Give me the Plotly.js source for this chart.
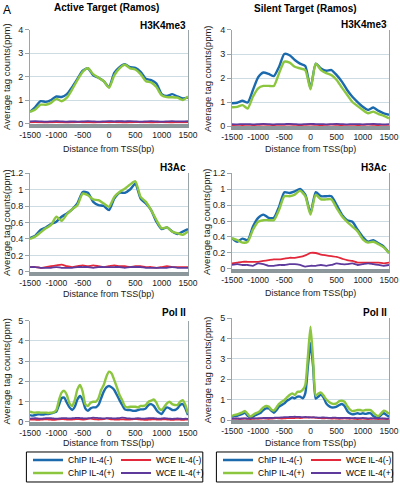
<!DOCTYPE html>
<html>
<head>
<meta charset="utf-8">
<script src="https://cdn.plot.ly/plotly-3.0.1.min.js"></script>
<style>html,body{margin:0;padding:0;background:#fff;}#chart{width:400px;height:483px;}</style>
</head>
<body>
<div id="chart"></div>
<script>
// ---- distance bins (bp) ----
const xBins100 = [-1500,-1400,-1300,-1200,-1100,-1000,-900,-800,-700,-600,-500,-400,-300,-200,-100,0,100,200,300,400,500,600,700,800,900,1000,1100,1200,1300,1400,1500];
const xBins50 = [-1500,-1450,-1400,-1350,-1300,-1250,-1200,-1150,-1100,-1050,
  -1000,-950,-900,-850,-800,-750,-700,-650,-600,-550,
  -500,-450,-400,-350,-300,-250,-200,-150,-100,-50,
  0,50,100,150,200,250,300,350,400,450,
  500,550,600,650,700,750,800,850,900,950,
  1000,1050,1100,1150,1200,1250,1300,1350,1400,1450,1500];

// ---- Active target, H3K4me3 ----
const actK4ChipMinus = [0.5,0.7,0.95,0.92,1.0,1.15,1.13,1.25,1.55,1.9, 2.25,2.35,2.05,1.95,1.8,1.55,2.15,2.4,2.52,2.4, 2.37,2.2,1.9,1.85,1.7,1.25,1.17,1.25,1.15,1.07, 1.1];
const actK4ChipPlus  = [0.5,0.6,0.8,0.8,0.88,1.05,0.95,1.1,1.45,1.85, 2.2,2.35,2.1,1.95,1.8,1.52,2.05,2.35,2.5,2.35, 2.3,2.1,1.8,1.75,1.55,1.2,1.12,1.12,1.1,1.0, 1.15];
const actK4WceMinus  = [0.05,0.06,0.05,0.04,0.05,0.06,0.05,0.04,0.05,0.06, 0.05,0.05,0.04,0.05,0.06,0.05,0.06,0.05,0.04,0.05, 0.06,0.05,0.05,0.04,0.05,0.06,0.05,0.04,0.05,0.05, 0.05];
const actK4WcePlus   = [0.09,0.1,0.09,0.08,0.09,0.1,0.09,0.08,0.09,0.08, 0.09,0.1,0.09,0.08,0.09,0.1,0.09,0.1,0.09,0.1, 0.09,0.08,0.09,0.1,0.09,0.08,0.09,0.1,0.09,0.09, 0.1];

// ---- Silent target, H3K4me3 ----
const silK4ChipMinus = [0.95,0.97,1.05,0.98,1.5,2.03,2.23,2.17,2.08,2.47, 3.0,2.95,2.75,2.6,2.5,1.57,2.6,2.4,2.3,2.33, 2.12,1.85,1.5,1.22,1.0,0.8,0.67,0.77,0.63,0.53, 0.47];
const silK4ChipPlus  = [0.78,0.8,0.87,0.73,1.22,1.57,1.67,1.67,1.67,2.2, 2.68,2.64,2.47,2.4,2.33,1.53,2.6,2.33,2.2,2.12, 1.92,1.6,1.3,1.0,0.83,0.67,0.53,0.6,0.5,0.42, 0.32];
const silK4WceMinus  = [0.04,0.05,0.04,0.05,0.04,0.05,0.06,0.05,0.04,0.05, 0.05,0.06,0.05,0.04,0.05,0.06,0.05,0.04,0.05,0.06, 0.05,0.04,0.05,0.05,0.04,0.05,0.06,0.05,0.04,0.05, 0.05];
const silK4WcePlus   = [0.08,0.07,0.08,0.08,0.07,0.08,0.09,0.08,0.07,0.08, 0.08,0.09,0.08,0.07,0.08,0.09,0.08,0.08,0.07,0.08, 0.09,0.08,0.07,0.08,0.08,0.07,0.08,0.09,0.08,0.07, 0.08];

// ---- Active target, H3Ac ----
const actAcChipMinus = [0.41,0.44,0.51,0.54,0.58,0.61,0.67,0.71,0.76,0.83, 0.97,0.96,0.85,0.81,0.8,0.75,0.89,0.96,0.96,1.0, 1.07,0.89,0.83,0.75,0.61,0.52,0.54,0.49,0.46,0.49, 0.52];
const actAcChipPlus  = [0.4,0.43,0.48,0.53,0.57,0.67,0.62,0.7,0.76,0.81, 0.95,0.93,0.88,0.87,0.83,0.79,0.91,0.97,1.01,1.06, 1.1,0.91,0.85,0.75,0.63,0.53,0.54,0.49,0.47,0.45, 0.49];
const actAcWceMinus  = [0.06,0.06,0.05,0.06,0.07,0.08,0.09,0.07,0.06,0.07, 0.08,0.07,0.08,0.07,0.06,0.07,0.08,0.07,0.07,0.06, 0.07,0.07,0.06,0.06,0.05,0.06,0.07,0.06,0.06,0.06, 0.06];
const actAcWcePlus   = [0.06,0.06,0.05,0.05,0.05,0.06,0.05,0.05,0.05,0.06, 0.06,0.06,0.05,0.06,0.06,0.06,0.06,0.06,0.05,0.06, 0.06,0.06,0.05,0.05,0.05,0.05,0.05,0.06,0.05,0.05, 0.05];

// ---- Silent target, H3Ac ----
const silAcChipMinus = [0.385,0.34,0.38,0.36,0.53,0.64,0.68,0.64,0.64,0.78, 0.96,0.95,0.97,1.0,0.93,0.7,0.96,0.91,0.91,0.91, 0.8,0.68,0.61,0.59,0.49,0.4,0.34,0.36,0.32,0.28, 0.2];
const silAcChipPlus  = [0.385,0.36,0.33,0.34,0.49,0.59,0.61,0.61,0.61,0.74, 0.91,0.91,0.93,0.98,0.91,0.68,0.93,0.87,0.87,0.87, 0.76,0.66,0.59,0.53,0.47,0.37,0.33,0.34,0.31,0.27, 0.2];
const silAcWceMinus  = [0.07,0.08,0.09,0.09,0.09,0.09,0.1,0.11,0.12,0.12, 0.13,0.14,0.14,0.15,0.17,0.2,0.2,0.18,0.17,0.16, 0.15,0.13,0.11,0.1,0.08,0.08,0.08,0.08,0.08,0.07, 0.08];
const silAcWcePlus   = [0.05,0.06,0.05,0.05,0.04,0.07,0.06,0.04,0.04,0.05, 0.05,0.06,0.06,0.05,0.03,0.04,0.04,0.05,0.04,0.05, 0.07,0.06,0.06,0.07,0.05,0.06,0.07,0.06,0.05,0.04, 0.05];

// ---- Active target, Pol II ----
const actPolChipMinus = [0.33,0.3,0.33,0.36,0.36,0.36,0.38,0.38,0.41,0.45,
  0.5,0.83,1.16,1.19,0.94,0.71,0.58,0.74,1.1,1.27,
  1.07,0.66,0.54,0.66,0.71,0.71,0.83,1.16,1.49,1.7,
  1.77,1.7,1.57,1.32,1.07,0.83,0.61,0.58,0.58,0.54,
  0.54,0.58,0.61,0.61,0.66,0.83,0.87,0.78,0.58,0.45,
  0.38,0.58,0.71,0.66,0.58,0.58,0.66,0.83,0.87,0.66, 0.33];
const actPolChipPlus = [0.5,0.46,0.45,0.46,0.45,0.45,0.45,0.43,0.45,0.46,
  0.58,1.07,1.44,1.53,1.32,0.91,0.78,1.07,1.6,1.82,
  1.49,0.87,0.78,0.94,0.99,0.99,1.16,1.57,1.82,2.23,
  2.48,2.39,2.06,1.7,1.32,1.07,0.78,0.71,0.74,0.74,
  0.74,0.71,0.78,0.78,0.83,0.99,1.04,1.1,0.94,0.66,
  0.58,0.74,0.91,0.99,0.87,0.83,0.83,0.99,1.07,0.83, 0.41];
const actPolWceMinus = [0.1,0.11,0.1,0.09,0.1,0.11,0.12,0.11,0.1,0.09,
  0.1,0.12,0.13,0.12,0.11,0.1,0.11,0.12,0.13,0.12,
  0.11,0.12,0.14,0.15,0.13,0.12,0.11,0.12,0.13,0.16,
  0.14,0.12,0.11,0.1,0.11,0.12,0.11,0.1,0.11,0.12,
  0.13,0.12,0.11,0.1,0.09,0.1,0.11,0.12,0.11,0.1,
  0.11,0.12,0.11,0.1,0.09,0.1,0.11,0.1,0.09,0.1, 0.1];
const actPolWcePlus = [0.15,0.16,0.17,0.16,0.15,0.16,0.17,0.18,0.17,0.16,
  0.15,0.16,0.17,0.18,0.17,0.16,0.17,0.18,0.19,0.18,
  0.17,0.16,0.17,0.18,0.2,0.19,0.18,0.17,0.16,0.17,
  0.18,0.17,0.16,0.17,0.18,0.2,0.19,0.17,0.16,0.15,
  0.16,0.17,0.16,0.15,0.16,0.17,0.18,0.17,0.16,0.15,
  0.16,0.17,0.16,0.15,0.14,0.15,0.16,0.15,0.14,0.15, 0.14];

// ---- Silent target, Pol II ----
const silPolChipMinus = [0.16,0.2,0.21,0.25,0.3,0.36,0.2,0.13,0.16,0.25,
  0.3,0.36,0.49,0.57,0.57,0.46,0.36,0.49,0.66,0.74,
  0.82,0.95,1.02,1.11,1.07,1.15,1.15,1.07,1.31,2.62,
  3.77,2.62,1.05,1.15,1.25,1.1,0.82,0.69,0.62,0.62,
  0.66,0.74,0.79,0.69,0.46,0.33,0.28,0.3,0.33,0.3,
  0.33,0.3,0.33,0.33,0.2,0.13,0.13,0.25,0.33,0.25, 0.16];
const silPolChipPlus = [0.2,0.25,0.28,0.33,0.38,0.44,0.3,0.16,0.25,0.33,
  0.38,0.49,0.62,0.69,0.66,0.52,0.46,0.62,0.79,0.9,
  0.98,1.11,1.23,1.31,1.23,1.39,1.39,1.48,1.72,3.11,
  4.59,2.95,1.2,1.3,1.35,1.2,1.02,0.9,0.82,0.79,
  0.82,0.93,0.95,0.9,0.69,0.52,0.44,0.46,0.49,0.49,
  0.46,0.49,0.49,0.49,0.36,0.25,0.2,0.33,0.46,0.41, 0.3];
const silPolWceMinus = [0.06,0.07,0.06,0.05,0.06,0.07,0.06,0.05,0.06,0.07,
  0.06,0.07,0.08,0.07,0.06,0.07,0.08,0.09,0.08,0.07,
  0.08,0.09,0.1,0.09,0.1,0.11,0.1,0.11,0.12,0.12,
  0.13,0.12,0.11,0.1,0.09,0.08,0.09,0.08,0.07,0.08,
  0.07,0.06,0.07,0.08,0.07,0.06,0.07,0.06,0.05,0.06,
  0.07,0.06,0.05,0.06,0.07,0.06,0.05,0.06,0.06,0.05, 0.06];
const silPolWcePlus = [0.07,0.07,0.08,0.07,0.08,0.08,0.07,0.08,0.09,0.08,
  0.09,0.09,0.1,0.1,0.11,0.1,0.11,0.12,0.12,0.13,
  0.14,0.14,0.15,0.15,0.16,0.15,0.15,0.14,0.15,0.14,
  0.13,0.14,0.13,0.12,0.12,0.13,0.12,0.11,0.11,0.12,
  0.11,0.1,0.1,0.11,0.1,0.1,0.09,0.1,0.09,0.09,
  0.1,0.09,0.08,0.09,0.08,0.08,0.09,0.08,0.08,0.07, 0.08];

// ---- labels ----
const seriesNames = ['ChIP IL-4(-)', 'ChIP IL-4(+)', 'WCE IL-4(-)', 'WCE IL-4(+)'];
const seriesColors = ['#1b6aae', '#8cc63e', '#e2283a', '#5d3a9c'];
const markNames = ['H3K4me3', 'H3K4me3', 'H3Ac', 'H3Ac', 'Pol II', 'Pol II'];
const columnTitles = ['Active Target (Ramos)', 'Silent Target (Ramos)'];
const xTitle = 'Distance from TSS(bp)';
const yTitle = 'Average tag counts(ppm)';
const xTicks = [-1500, -1000, -500, 0, 500, 1000, 1500];
const yTicksK4 = [0, 1, 2, 3, 4];
const yTicksAc = [0, 0.2, 0.4, 0.6, 0.8, 1, 1.2];
const yTicksPol = [0, 1, 2, 3, 4, 5];

const panels = [
  {x: xBins100, s: [actK4ChipMinus, actK4ChipPlus, actK4WceMinus, actK4WcePlus], yt: yTicksK4},
  {x: xBins100, s: [silK4ChipMinus, silK4ChipPlus, silK4WceMinus, silK4WcePlus], yt: yTicksK4},
  {x: xBins100, s: [actAcChipMinus, actAcChipPlus, actAcWceMinus, actAcWcePlus], yt: yTicksAc},
  {x: xBins100, s: [silAcChipMinus, silAcChipPlus, silAcWceMinus, silAcWcePlus], yt: yTicksAc},
  {x: xBins50, s: [actPolChipMinus, actPolChipPlus, actPolWceMinus, actPolWcePlus], yt: yTicksPol},
  {x: xBins50, s: [silPolChipMinus, silPolChipPlus, silPolWceMinus, silPolWcePlus], yt: yTicksPol}
];

// ---- layout geometry (paper fractions) ----
const colDom = [[0.075, 0.47], [0.58, 0.9725]];
const rowDom = [[0.7443, 0.9389], [0.7391, 0.9379], [0.4369, 0.6418], [0.4431, 0.6418], [0.1269, 0.3360], [0.1304, 0.3410]];
const labelY = [0.9482, 0.9503, 0.6542, 0.6542, 0.352, 0.354];
const xTitleY = [0.6915, 0.6915, 0.3913, 0.3934, 0.0828, 0.0828];
// legend rows: [left row1, left row2, right row1, right row2]
const legendIds = ['legend', 'legend2', 'legend3', 'legend4'];

const FONT = '"Liberation Sans", Arial, Helvetica, sans-serif';
const traces = [];
const legendBase = {xanchor: 'left', yanchor: 'top', orientation: 'h', bgcolor: 'rgba(0,0,0,0)',
  borderwidth: 0, font: {family: FONT, size: 8.5, color: '#000'}, itemwidth: 30};
const layout = {
  width: 400, height: 483,
  margin: {l: 0, r: 0, t: 0, b: 0, autoexpand: false},
  paper_bgcolor: '#ffffff', plot_bgcolor: '#ffffff',
  font: {family: FONT, size: 9, color: '#1a1a1a'},
  showlegend: true,
  annotations: [],
  legend:  Object.assign({}, legendBase, {x: 0.07,  y: 0.0776}),
  legend2: Object.assign({}, legendBase, {x: 0.07,  y: 0.0507}),
  legend3: Object.assign({}, legendBase, {x: 0.545, y: 0.0776}),
  legend4: Object.assign({}, legendBase, {x: 0.545, y: 0.0507}),
  shapes: [
    {type: 'rect', xref: 'paper', yref: 'paper', x0: 0.066, x1: 0.507, y0: 0.0021, y1: 0.0642, line: {color: '#000', width: 1}},
    {type: 'rect', xref: 'paper', yref: 'paper', x0: 0.541, x1: 0.982, y0: 0.0021, y1: 0.0642, line: {color: '#000', width: 1}}
  ]
};

panels.forEach((p, i) => {
  const n = i + 1;
  const col = i % 2;
  const xa = 'x' + (n === 1 ? '' : n), ya = 'y' + (n === 1 ? '' : n);
  p.s.forEach((vals, k) => {
    // series 0/2 are IL-4(-), 1/3 are IL-4(+); legend row follows that
    const row = (k === 0 || k === 2) ? 0 : 1;
    const tr = {
      type: 'scatter', mode: 'lines', x: p.x, y: vals,
      xaxis: xa, yaxis: ya,
      name: seriesNames[k],
      legend: legendIds[col * 2 + row],
      showlegend: i >= 4,
      line: {color: seriesColors[k], width: k < 2 ? 2.4 : 1.8, shape: 'spline', smoothing: 0.6},
      hoverinfo: 'skip'
    };
    if (k < 2) tr.legendwidth = 43;
    traces.push(tr);
  });
  const yMax = p.yt[p.yt.length - 1];
  layout['xaxis' + (n === 1 ? '' : n)] = {
    domain: colDom[col], anchor: ya, range: [-1500, 1500], tickvals: xTicks,
    ticktext: xTicks.map(String), tickangle: 0,
    showgrid: false, zeroline: false, showline: true, linecolor: '#8b979b', linewidth: 4,
    layer: 'below traces', ticks: '', tickfont: {family: FONT, size: 8.5, color: '#1a1a1a'}, fixedrange: true
  };
  layout['yaxis' + (n === 1 ? '' : n)] = {
    domain: rowDom[i], anchor: xa, range: [0, yMax], tickvals: p.yt,
    ticktext: p.yt.map(String),
    showgrid: true, gridcolor: '#cddbe2', gridwidth: 1, zeroline: false,
    showline: true, linecolor: '#9aa5aa', linewidth: 1, mirror: true,
    ticks: 'outside', ticklen: 4, tickcolor: '#9aa5aa',
    layer: 'below traces', tickfont: {family: FONT, size: 9, color: '#1a1a1a'}, fixedrange: true
  };
  layout.annotations.push({text: '<b>' + markNames[i] + '</b>', xref: 'paper', yref: 'paper',
    x: colDom[col][1], y: labelY[i], xanchor: 'right', yanchor: 'middle', showarrow: false,
    font: {family: FONT, size: 10, color: '#000'}});
  layout.annotations.push({text: xTitle, xref: 'paper', yref: 'paper',
    x: (colDom[col][0] + colDom[col][1]) / 2, y: xTitleY[i], xanchor: 'center', yanchor: 'middle', showarrow: false,
    font: {family: FONT, size: 9, color: '#1a1a1a'}});
  layout.annotations.push({text: yTitle, xref: 'paper', yref: 'paper', textangle: -90,
    x: col === 0 ? 0.016 : 0.5175, y: (rowDom[i][0] + rowDom[i][1]) / 2, xanchor: 'center', yanchor: 'middle', showarrow: false,
    font: {family: FONT, size: 9.5, color: '#1a1a1a'}});
});

layout.annotations.push({text: '<b>' + columnTitles[0] + '</b>', xref: 'paper', yref: 'paper', x: 0.265, y: 1.0,
  xanchor: 'center', yanchor: 'top', showarrow: false, font: {family: FONT, size: 10, color: '#000'}});
layout.annotations.push({text: '<b>' + columnTitles[1] + '</b>', xref: 'paper', yref: 'paper', x: 0.7625, y: 0.998,
  xanchor: 'center', yanchor: 'top', showarrow: false, font: {family: FONT, size: 10, color: '#000'}});
layout.annotations.push({text: 'A', xref: 'paper', yref: 'paper', x: 0.003, y: 0.998,
  xanchor: 'left', yanchor: 'top', showarrow: false, font: {family: FONT, size: 12, color: '#000'}});

Plotly.newPlot('chart', traces, layout, {displayModeBar: false, staticPlot: true});
</script>
</body>
</html>
